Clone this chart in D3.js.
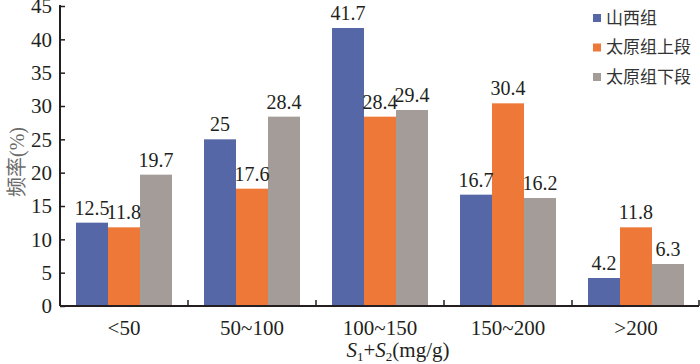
<!DOCTYPE html>
<html>
<head>
<meta charset="utf-8">
<script src="https://cdn.jsdelivr.net/npm/d3@7"></script>
<style>
  body { margin: 0; background: #fff; }
  svg { display: block; }
  .serif, .serif text { font-family: "Liberation Serif", "Times New Roman", Times, serif; }
  .cjk { font-family: "Noto Sans CJK SC", sans-serif; }
</style>
</head>
<body>
<script>
// data
var categories = ["<50", "50~100", "100~150", "150~200", ">200"];
var seriesNames = ["山西组", "太原组上段", "太原组下段"];
var shanxi = [12.5, 25, 41.7, 16.7, 4.2];
var taiyuanUpper = [11.8, 17.6, 28.4, 30.4, 11.8];
var taiyuanLower = [19.7, 28.4, 29.4, 16.2, 6.3];
var yTicks = [0, 5, 10, 15, 20, 25, 30, 35, 40, 45];
var colors = ["#5567a6", "#ee7838", "#a39c98"];

var W = 700, H = 364;
var margin = {top: 6, right: 0, bottom: 58, left: 60};

var series = [shanxi, taiyuanUpper, taiyuanLower];
var rows = categories.map(function(c, i) {
  return {cat: c, vals: series.map(function(s) { return s[i]; })};
});

var svg = d3.select("body").append("svg")
    .attr("width", W)
    .attr("height", H);

var x0 = d3.scaleBand()
    .domain(categories)
    .range([margin.left, W - margin.right]);

// 3 bars of 32px with half a bar of space either side
var x1 = d3.scaleBand()
    .domain(d3.range(seriesNames.length))
    .range([0, x0.bandwidth()])
    .paddingOuter(0.5)
    .paddingInner(0);

var y = d3.scaleLinear()
    .domain([0, 45])
    .range([H - margin.bottom, margin.top]);

// bars
var groups = svg.selectAll(".grp")
  .data(rows)
  .enter().append("g")
    .attr("class", "grp serif")
    .attr("transform", function(d) { return "translate(" + x0(d.cat) + ",0)"; });

groups.selectAll("rect")
  .data(function(d) { return d.vals; })
  .enter().append("rect")
    .attr("x", function(d, i) { return x1(i); })
    .attr("y", function(d) { return y(d); })
    .attr("width", x1.bandwidth())
    .attr("height", function(d) { return y(0) - y(d); })
    .attr("fill", function(d, i) { return colors[i]; });

// value labels
groups.selectAll(".val")
  .data(function(d) { return d.vals; })
  .enter().append("text")
    .attr("class", "val")
    .attr("x", function(d, i) { return x1(i) + x1.bandwidth() / 2; })
    .attr("y", function(d) { return y(d) - 8; })
    .attr("text-anchor", "middle")
    .attr("font-size", 20)
    .attr("fill", "#231f20")
    .text(function(d) { return d; });

// y axis
var yAxis = d3.axisLeft(y)
    .tickValues(yTicks)
    .tickSize(-5)
    .tickPadding(8);

var gy = svg.append("g")
    .attr("class", "serif")
    .attr("transform", "translate(" + margin.left + ",0)")
    .call(yAxis)
    .attr("font-family", null)
    .attr("font-size", 21);
gy.select(".domain").attr("stroke", "#231f20").attr("stroke-width", 2)
  .attr("d", "M0," + (margin.top - 1) + "V" + y(0));
gy.selectAll(".tick line").attr("stroke", "#231f20").attr("stroke-width", 1.5);
gy.selectAll("text").attr("fill", "#231f20");

// x axis
var xAxis = d3.axisBottom(x0).tickSize(0).tickPadding(14);
var gx = svg.append("g")
    .attr("class", "serif")
    .attr("transform", "translate(0," + y(0) + ")")
    .call(xAxis)
    .attr("font-family", null)
    .attr("font-size", 21);
gx.select(".domain").attr("stroke", "#231f20").attr("stroke-width", 2)
  .attr("d", "M" + margin.left + ",0H" + (W - 1));
gx.selectAll("text").attr("fill", "#231f20");

// band boundary ticks pointing up
gx.selectAll(".sep")
  .data(categories.slice(1).concat([""]))
  .enter().append("line")
    .attr("class", "sep")
    .attr("x1", function(d, i) { return i < categories.length - 1 ? x0(d) : W - 1; })
    .attr("x2", function(d, i) { return i < categories.length - 1 ? x0(d) : W - 1; })
    .attr("y1", 0)
    .attr("y2", -6)
    .attr("stroke", "#231f20")
    .attr("stroke-width", 1.5);

// axis titles
var yt = svg.append("text")
    .attr("transform", "translate(24,162) rotate(-90)")
    .attr("text-anchor", "middle")
    .attr("font-size", 20)
    .attr("fill", "#6b6b6b");
yt.append("tspan").attr("class", "cjk").text("频率");
yt.append("tspan").attr("class", "serif").text("(%)");

var xt = svg.append("text")
    .attr("class", "serif")
    .attr("x", (margin.left + W) / 2 + 18)
    .attr("y", 357)
    .attr("text-anchor", "middle")
    .attr("font-size", 21)
    .attr("fill", "#231f20");
xt.append("tspan").style("font-style", "italic").text("S");
xt.append("tspan").attr("dy", 4).attr("font-size", 13).text("1");
xt.append("tspan").attr("dy", -4).text("+");
xt.append("tspan").style("font-style", "italic").text("S");
xt.append("tspan").attr("dy", 4).attr("font-size", 13).text("2");
xt.append("tspan").attr("dy", -4).text("(mg/g)");

// legend
var legend = svg.selectAll(".leg")
  .data(seriesNames)
  .enter().append("g")
    .attr("class", "leg")
    .attr("transform", function(d, i) { return "translate(593," + (18 + i * 29.5) + ")"; });

legend.append("rect")
    .attr("x", 0)
    .attr("y", -4)
    .attr("width", 8)
    .attr("height", 8)
    .attr("fill", function(d, i) { return colors[i]; });

legend.append("text")
    .attr("class", "cjk")
    .attr("x", 13)
    .attr("y", 0)
    .attr("dy", "0.35em")
    .attr("font-size", 17)
    .attr("fill", "#333")
    .text(function(d) { return d; });
</script>
</body>
</html>
